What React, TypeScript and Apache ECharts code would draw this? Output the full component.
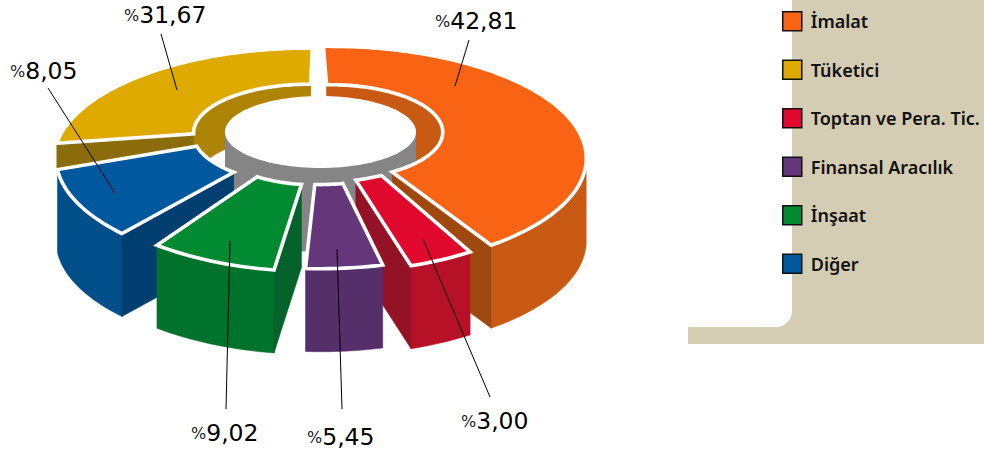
import React, { useEffect, useRef } from "react";
import * as echarts from "echarts";

const legendOrder = ["İmalat", "Tüketici", "Toptan ve Pera. Tic.", "Finansal Aracılık", "İnşaat", "Diğer"];
// clockwise from the top of the ring
const sliceNames = ["İmalat", "Toptan ve Pera. Tic.", "Finansal Aracılık", "İnşaat", "Diğer", "Tüketici"];
const sliceValues = [42.81, 3.0, 5.45, 9.02, 8.05, 31.67];

const DEG = 360 / sliceValues.reduce((a, b) => a + b, 0);
const cumulative = sliceValues.map((_, i) => sliceValues.slice(0, i).reduce((a, b) => a + b, 0));

const FONT = "'DejaVu Sans'";
const A = 243, B = 101.6, C = 0.304, H = 83;

type Look = {
  cx: number; cy: number; ro: number; ri: number; t0: number; t1: number; c?: number; cutDepth?: number;
  top: string; wall: string; side: string; inner?: string; cut: "start" | "end" | null; outer: boolean;
  label: [number, number]; lead: number[];
};
const looks: Record<string, Look> = {
  "İmalat": { cx: 330, cy: 126, ro: 1.01, ri: 0.46, t0: -2, t1: -3.6, c: 0.285, top: "#f96314", wall: "#c85a14", side: "#a0490f", inner: "#c85a14", cut: "end", outer: true, label: [435, 31], lead: [469, 40, 455, 86] },
  "Toptan ve Pera. Tic.": { cx: 317, cy: 120, ro: 1.035, ri: 0.52, t0: 0, t1: 0, top: "#e0082c", wall: "#b71127", side: "#931226", cut: "end", outer: true, label: [461, 431], lead: [490, 397, 423, 239] },
  "Finansal Aracılık": { cx: 320, cy: 137, ro: 0.93, ri: 0.41, t0: 3.5, t1: -1.9, top: "#63377a", wall: "#552f6a", side: "#552f6a", cut: null, outer: true, label: [307, 447], lead: [342, 409, 337, 249] },
  "İnşaat": { cx: 317, cy: 136, ro: 0.95, ri: 0.42, t0: 3.1, t1: -5.5, top: "#028a32", wall: "#01722b", side: "#04622a", cut: "start", outer: true, label: [191, 443], lead: [226, 409, 230, 241] },
  "Diğer": { cx: 318, cy: 126, ro: 1.035, ri: 0.51, t0: 0.3, t1: 2.2, c: 0.27, top: "#00589f", wall: "#004f8a", side: "#003f6f", cut: "start", outer: true, label: [10, 81], lead: [48, 88, 115, 193] },
  "Tüketici": { cx: 309, cy: 126, ro: 1.0, ri: 0.47, t0: 14.7, t1: 1, cutDepth: 30, top: "#dfaa00", wall: "#8a6c0a", side: "#8a6c0a", inner: "#ae8406", cut: "start", outer: false, label: [124, 25], lead: [161, 34, 177, 90] },
};

function project(l: Look, deg: number, r: number, dy = 0): number[] {
  const t = (deg * Math.PI) / 180;
  const X = r * Math.sin(t);
  const Y = -r * Math.cos(t);
  const w = 1 / (1 - (l.c ?? C) * Y);
  return [l.cx + A * X * w, l.cy + B * Y * w + dy];
}
function arc(l: Look, a0: number, a1: number, r: number, dy = 0): number[][] {
  const n = Math.max(2, Math.ceil(Math.abs(a1 - a0) / 1.5));
  const out: number[][] = [];
  for (let i = 0; i <= n; i++) out.push(project(l, a0 + ((a1 - a0) * i) / n, r, dy));
  return out;
}
function angles(i: number, value: number, l: Look): [number, number] {
  const a0 = cumulative[i] * DEG + l.t0;
  const a1 = (cumulative[i] + value) * DEG + l.t1;
  return [a0, a1];
}
const SILHOUETTE = (Math.asin(C) * 180) / Math.PI;

function sliceItem(i: number) {
  const name = sliceNames[i];
  const l = looks[name];
  return (_p: any, api: any) => {
    const [a0, a1] = angles(i, api.value(0), l);
    const children: any[] = [];
    const poly = (pts: number[][], fill: string) =>
      children.push({ type: "polygon", shape: { points: pts }, style: { fill, stroke: fill, lineWidth: 0.5 } });
    if (l.outer) {
      const from = Math.max(a0, 90 + SILHOUETTE);
      const to = Math.min(a1, 270 - SILHOUETTE);
      const top = arc(l, from, to, l.ro);
      poly([...top, ...arc(l, to, from, l.ro, H)], l.wall);
    }
    if (l.cut) {
      const a = l.cut === "start" ? a0 : a1;
      const p = project(l, a, l.ro), q = project(l, a, l.ri);
      const d = l.cutDepth ?? H;
      poly([p, q, [q[0], q[1] + d], [p[0], p[1] + d]], l.side);
    }
    const face = [...arc(l, a0, a1, l.ro), ...arc(l, a1, a0, l.ri)];
    children.push({
      type: "polygon",
      shape: { points: face },
      style: { fill: l.top, stroke: "#ffffff", lineWidth: 3.6, lineJoin: "miter" },
    });
    return { type: "group", children };
  };
}

function innerWalls(_p: any, api: any) {
  const i = api.value(0);
  const l = looks[sliceNames[i]];
  const [a0, a1] = angles(i, sliceValues[i], l);
  const top = arc(l, a0, a1, l.ri);
  const low = arc(l, a1, a0, l.ri, 50);
  const style = { fill: l.inner, stroke: l.inner, lineWidth: 0.5 };
  return {
    type: "group",
    children: [
      { type: "polygon", shape: { points: [...top, ...low] }, style },
      { type: "polygon", shape: { points: [...top, [l.cx, l.cy]] }, style },
    ],
  };
}

function hub() {
  const cx = 320.5, cy = 132, rx = 95.5, ry = 36, depth = 84;
  const ring = (y: number, from: number, to: number) => {
    const pts: number[][] = [];
    for (let d = from; d <= to; d += 3) {
      const t = (d * Math.PI) / 180;
      pts.push([cx + rx * Math.cos(t), y + ry * Math.sin(t)]);
    }
    return pts;
  };
  return {
    type: "group",
    children: [
      { type: "polygon", shape: { points: [[cx + rx, cy], ...ring(cy + depth, 0, 180), [cx - rx, cy]] }, style: { fill: "#868586" } },
      { type: "polygon", shape: { points: ring(cy, 0, 360) }, style: { fill: "#ffffff" } },
    ],
  };
}

function labels(_p: any, api: any) {
  const i = api.value(0);
  const l = looks[sliceNames[i]];
  const txt = sliceValues[i].toFixed(2).replace(".", ",");
  return {
    type: "group",
    children: [
      { type: "line", shape: { x1: l.lead[0], y1: l.lead[1], x2: l.lead[2], y2: l.lead[3] }, style: { stroke: "#000", lineWidth: 1 } },
      {
        type: "text",
        x: l.label[0],
        y: l.label[1] + 2,
        style: {
          text: `{p|%}{n|${txt}}`,
          verticalAlign: "bottom",
          rich: {
            p: { fontFamily: FONT, fontSize: 16, fill: "#222" },
            n: { fontFamily: FONT, fontSize: 23.5, fill: "#000" },
          },
        },
      },
    ],
  };
}

export default function App() {
  const ref = useRef<HTMLDivElement>(null);
  useEffect(() => {
    const chart = echarts.init(ref.current!, null, { renderer: "svg" });
    const paint = ["Tüketici", "Diğer", "İmalat", "Toptan ve Pera. Tic.", "Finansal Aracılık", "İnşaat"];
    chart.setOption({
      animation: false,
      graphic: {
        elements: [
          { type: "rect", shape: { x: 688, y: 0, width: 296, height: 344 }, style: { fill: "#d5cdb3" }, silent: true },
          { type: "rect", shape: { x: 688, y: 0, width: 104, height: 327, r: [0, 0, 16, 0] }, style: { fill: "#ffffff" }, silent: true },
        ],
      },
      legend: {
        data: legendOrder,
        orient: "vertical",
        left: 782,
        top: 11,
        padding: 0,
        itemWidth: 19,
        itemHeight: 19,
        itemGap: 28,
        icon: "rect",
        selectedMode: false,
        itemStyle: { borderColor: "#111111", borderWidth: 1.5 },
        textStyle: { fontFamily: "'Noto Sans'", fontWeight: 600, fontSize: 18, color: "#111111", padding: [0, 0, 0, 4] },
      },
      series: [
        { type: "custom", coordinateSystem: "none", silent: true, data: [[0], [5]], renderItem: innerWalls },
        { type: "custom", coordinateSystem: "none", silent: true, data: [[0]], renderItem: hub },
        ...paint.map((name) => {
          const i = sliceNames.indexOf(name);
          return {
            type: "custom",
            name,
            coordinateSystem: "none",
            silent: true,
            itemStyle: { color: looks[name].top },
            data: [[sliceValues[i]]],
            renderItem: sliceItem(i),
          };
        }),
        { type: "custom", coordinateSystem: "none", silent: true, data: sliceNames.map((_, i) => [i]), renderItem: labels },
      ],
    });
    return () => chart.dispose();
  }, []);
  return <div ref={ref} style={{ position: "absolute", left: 0, top: 0, width: 984, height: 457 }} />;
}
